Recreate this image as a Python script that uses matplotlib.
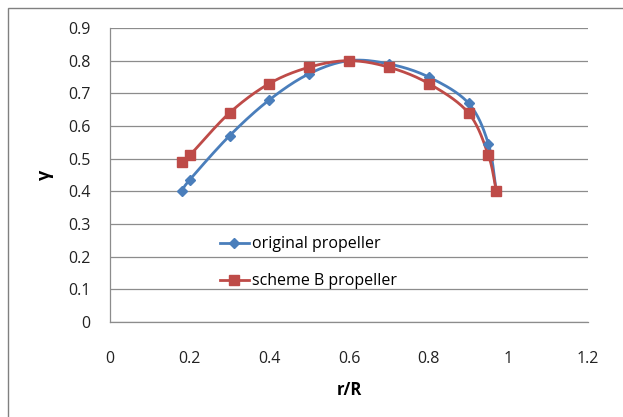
import matplotlib
matplotlib.use('Agg')
import matplotlib.pyplot as plt
import matplotlib.patches as mpatches
import numpy as np

# data
r_orig = [0.18, 0.20, 0.30, 0.40, 0.50, 0.60, 0.70, 0.80, 0.90, 0.95, 0.97]
g_orig = [0.400, 0.435, 0.570, 0.680, 0.760, 0.800, 0.790, 0.750, 0.670, 0.545, 0.400]
r_schB = [0.18, 0.20, 0.30, 0.40, 0.50, 0.60, 0.70, 0.80, 0.90, 0.95, 0.97]
g_schB = [0.490, 0.510, 0.640, 0.730, 0.780, 0.800, 0.780, 0.730, 0.640, 0.510, 0.400]

x_ticks = [0, 0.2, 0.4, 0.6, 0.8, 1, 1.2]
y_ticks = [0, 0.1, 0.2, 0.3, 0.4, 0.5, 0.6, 0.7, 0.8, 0.9]

plt.rcParams['font.family'] = ['Open Sans', 'DejaVu Sans']


def smooth(x, y, n=20):
    # Catmull-Rom style curve through the points (like Excel smoothed lines)
    x = np.asarray(x, float)
    y = np.asarray(y, float)
    px = np.concatenate([[2 * x[0] - x[1]], x, [2 * x[-1] - x[-2]]])
    py = np.concatenate([[2 * y[0] - y[1]], y, [2 * y[-1] - y[-2]]])
    xs, ys = [], []
    t = np.linspace(0, 1, n)
    for i in range(1, len(px) - 2):
        for p, out in ((px, xs), (py, ys)):
            p0, p1, p2, p3 = p[i - 1], p[i], p[i + 1], p[i + 2]
            out.extend(0.5 * ((2 * p1) + (-p0 + p2) * t
                              + (2 * p0 - 5 * p1 + 4 * p2 - p3) * t ** 2
                              + (-p0 + 3 * p1 - 3 * p2 + p3) * t ** 3))
    return np.array(xs), np.array(ys)


fig = plt.figure(figsize=(6.23, 4.17), dpi=100)
ax = fig.add_axes([110 / 623, 1 - 322 / 417, 478 / 623, 294 / 417])

blue = '#4a7ebb'
red = '#be4b48'

xs, ys = smooth(r_orig, g_orig)
ax.plot(xs, ys, color=blue, lw=2, zorder=3)
ax.plot(r_orig, g_orig, ls='none', marker='D', ms=5, color=blue, zorder=4)
xs, ys = smooth(r_schB, g_schB)
ax.plot(xs, ys, color=red, lw=2, zorder=3)
ax.plot(r_schB, g_schB, ls='none', marker='s', ms=7, color=red, zorder=4)

# legend proxies
h1, = ax.plot([], [], color=blue, lw=2, marker='D', ms=5, label='original propeller')
h2, = ax.plot([], [], color=red, lw=2, marker='s', ms=7, label='scheme B propeller')
leg = ax.legend(handles=[h1, h2], loc='upper left', bbox_to_anchor=(0.2, 0.34),
                frameon=False, fontsize=11.5, handlelength=1.8, handletextpad=0.2,
                labelspacing=1.3)

ax.set_xlim(0, 1.2)
ax.set_ylim(0, 0.9)
ax.set_xticks(x_ticks)
ax.set_xticklabels([f'{v:g}' for v in x_ticks])
ax.set_yticks(y_ticks)
ax.set_yticklabels([f'{v:g}' for v in y_ticks])
ax.tick_params(length=0, labelsize=11.5, colors='#222222')
ax.tick_params(axis='x', pad=21)
ax.tick_params(axis='y', pad=14)
ax.grid(axis='y', color='#8c8c8c', lw=0.9)
ax.set_axisbelow(True)
for s in ['top', 'right']:
    ax.spines[s].set_visible(False)
for s in ['left', 'bottom']:
    ax.spines[s].set_color('#8c8c8c')
    ax.spines[s].set_linewidth(0.9)

ax.set_xlabel('r/R', fontsize=12, fontweight='bold', labelpad=10)
ax.set_ylabel('γ', fontsize=13, fontweight='bold', labelpad=10)

# outer chart frame
fig.patches.append(mpatches.Rectangle((8 / 623, -0.02), 1.2, 1 - 8 / 417 + 0.02,
                                      transform=fig.transFigure, fill=False,
                                      edgecolor='#808080', lw=1))

fig.savefig('out.png', dpi=100)
